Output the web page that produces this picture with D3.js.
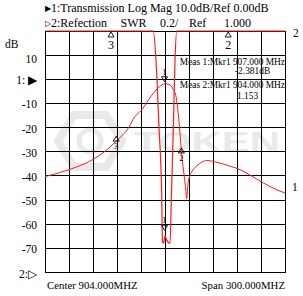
<!DOCTYPE html>
<html>
<head>
<meta charset="utf-8">
<script src="https://cdn.jsdelivr.net/npm/d3@7"></script>
<style>
  body { margin: 0; background: #fff; }
  svg { display: block; }
  text { font-family: "Liberation Serif", "Times New Roman", serif; fill: #000; }
</style>
</head>
<body>
<div id="chart"></div>
<script>
// frequency axis (MHz)
const freqStart = 754, freqStop = 1054, freqStep = 30;

// trace 1: transmission, log mag (dB)
const transFreq = [754, 769, 784, 799, 814, 829, 844, 859, 866, 874, 879, 884, 889, 894, 899, 904, 909, 914, 918, 920.5, 923, 925, 928, 930, 931, 933, 935, 939, 944, 950, 956, 969, 984, 999, 1014, 1029, 1044, 1054];
const transDb   = [-40.3, -39, -37.4, -35.6, -33.2, -29.8, -25.3, -19.8, -15.6, -13, -10.8, -8.2, -6, -4, -2.6, -1.8, -2.1, -4, -7.5, -14, -23.5, -31.5, -40, -46, -49.5, -42.5, -40, -37.5, -35.7, -34.3, -33.6, -34.4, -35.8, -37.6, -40.4, -43.3, -45.8, -47.1];

// trace 2: reflection, SWR
const swrFreq = [754, 889.4, 892.8, 896.5, 899.9, 900.8, 902, 904, 906, 908, 910.3, 912, 914.4, 916.5, 918.6, 1054];
const swrVal  = [3, 3, 2.75, 2.2, 1.64, 1.26, 1.24, 1.3, 1.27, 1.25, 1.24, 1.64, 2.2, 2.75, 3, 3];

// left scale labels
const dbTicks = [10, 0, -10, -20, -30, -40, -50, -60, -70, -80];
const dbTickLabels = ["10", "1: \u25B6", "-10", "-20", "-30", "-40", "-50", "-60", "-70", "2:\u25B7"];

// markers on traces
const trMarkers = [{ f: 903.5, v: -1.0, n: "1", dir: "down" }, { f: 843, v: -25.6, n: "3", dir: "up" }, { f: 924.5, v: -30.5, n: "2", dir: "up" }];
const swrMarkers = [{ f: 903.5, v: 1.35, n: "1" }];
const topMarkers = [{ f: 836.5, n: "3" }, { f: 983, n: "2" }];

const width = 303, height = 296;
const plotL = 45, plotR = 285, plotT = 31, plotB = 272.5;

const svg = d3.select("#chart").append("svg")
  .attr("width", width).attr("height", height);

const x = d3.scaleLinear().domain([freqStart, freqStop]).range([plotL, plotR]);
const y = d3.scaleLinear().domain([-80, 20]).range([plotB, plotT]);
const ySwr = d3.scaleLinear().domain([1, 3]).range([plotB, plotT]).clamp(true);

// watermark (logo)
const wm = svg.append("g").attr("opacity", 0.5);
const hex = d3.range(6).map(i => {
  const a = Math.PI / 3 * i;
  return [90 + 32 * Math.cos(a), 141 + 30 * Math.sin(a)];
});
wm.append("path").attr("d", d3.line()(hex) + "Z")
  .attr("fill", "none").attr("stroke", "#d4d4d4").attr("stroke-width", 8);
wm.append("circle").attr("cx", 90).attr("cy", 141).attr("r", 11)
  .attr("fill", "none").attr("stroke", "#d4d4d4").attr("stroke-width", 5);
wm.append("text").attr("x", 134).attr("y", 152)
  .attr("textLength", 146).attr("lengthAdjust", "spacingAndGlyphs")
  .style("font-family", "'Liberation Sans', Arial, sans-serif")
  .style("font-weight", "bold").style("font-size", "29px")
  .style("fill", "#d4d4d4").text("TOKEN");

// grid
const grid = svg.append("g").attr("stroke", "#000").attr("stroke-width", 1).attr("shape-rendering", "crispEdges");
grid.selectAll(".v").data(d3.range(freqStart, freqStop + 1, freqStep)).join("line")
  .attr("x1", d => x(d)).attr("x2", d => x(d)).attr("y1", plotT).attr("y2", plotB);
grid.selectAll(".h").data(d3.range(-80, 21, 10)).join("line")
  .attr("x1", plotL).attr("x2", plotR).attr("y1", d => y(d)).attr("y2", d => y(d));

// left labels
svg.append("g").selectAll("text").data(dbTicks).join("text")
  .attr("x", 37).attr("y", d => y(d) + (d === 10 ? 4 : 1))
  .attr("text-anchor", "end").attr("dominant-baseline", "central")
  .style("font-size", "11.5px")
  .text((d, i) => dbTickLabels[i]);
svg.append("text").attr("x", 5).attr("y", 44).attr("dominant-baseline", "central")
  .style("font-size", "11.5px").text("dB");

// traces
const line1 = d3.line().x((d, i) => x(transFreq[i])).y(d => y(d)).curve(d3.curveMonotoneX);
svg.append("path").attr("d", line1(transDb))
  .attr("fill", "none").attr("stroke", "#ff1a1a").attr("stroke-width", 1);
const line2 = d3.line().x((d, i) => x(swrFreq[i])).y(d => ySwr(d)).curve(d3.curveMonotoneX);
svg.append("path").attr("d", line2(swrVal))
  .attr("fill", "none").attr("stroke", "#ff1a1a").attr("stroke-width", 1.2);

// trace end labels
svg.append("text").attr("x", 292).attr("y", y(-44.5)).attr("dominant-baseline", "central")
  .style("font-size", "11.5px").text("1");
svg.append("text").attr("x", 293).attr("y", 33).attr("dominant-baseline", "central")
  .style("font-size", "11.5px").text("2");

// marker symbols
function tri(g, cx, cy, dir) {
  const h = 5, w = 3;
  const pts = dir === "down"
    ? [[cx - w, cy - h], [cx + w, cy - h], [cx, cy]]
    : [[cx - w, cy + h], [cx + w, cy + h], [cx, cy]];
  g.append("path").attr("d", d3.line()(pts) + "Z")
    .attr("fill", "none").attr("stroke", "#000").attr("stroke-width", 0.9);
}
const mk = svg.append("g");
trMarkers.forEach(m => {
  const cx = x(m.f), cy = y(m.v);
  if (m.dir === "down") {
    tri(mk, cx, cy, "down");
    mk.append("text").attr("x", cx).attr("y", cy - 7).attr("text-anchor", "middle")
      .style("font-size", "9px").text(m.n);
  } else {
    tri(mk, cx, cy - 5, "up");
    mk.append("text").attr("x", cx).attr("y", cy + 8).attr("text-anchor", "middle")
      .style("font-size", "8.5px").text(m.n);
  }
});
swrMarkers.forEach(m => {
  const cx = x(m.f), cy = ySwr(m.v);
  tri(mk, cx, cy, "down");
  mk.append("text").attr("x", cx).attr("y", cy - 7).attr("text-anchor", "middle")
    .style("font-size", "9px").text(m.n);
});
topMarkers.forEach(m => {
  const cx = x(m.f);
  tri(mk, cx, 32, "up");
  mk.append("text").attr("x", cx).attr("y", 49).attr("text-anchor", "middle")
    .style("font-size", "12px").text(m.n);
});

// header
const h1 = svg.append("text").attr("x", 45).attr("y", 12).style("font-size", "12px");
h1.append("tspan").style("font-size", "8px").attr("dy", -1).text("\u25B6");
h1.append("tspan").attr("dy", 1).text("1:Transmission Log Mag 10.0dB/Ref 0.00dB");
const h2 = svg.append("g").style("font-size", "12px");
const h2a = h2.append("text").attr("x", 45).attr("y", 27);
h2a.append("tspan").style("font-size", "8px").attr("dy", -1).text("\u25B7");
h2a.append("tspan").attr("dy", 1).text("2:Refection");
h2.append("text").attr("x", 120.5).attr("y", 27).text("SWR");
h2.append("text").attr("x", 160).attr("y", 27).text("0.2/");
h2.append("text").attr("x", 189).attr("y", 27).text("Ref");
h2.append("text").attr("x", 224).attr("y", 27).text("1.000");

// measurement readout
const meas = svg.append("g").style("font-size", "9.4px");
meas.append("text").attr("x", 285).attr("y", 65).attr("text-anchor", "end").text("Meas 1:Mkr1 907.000 MHz");
meas.append("text").attr("x", 235).attr("y", 74).text("-2.381dB");
meas.append("text").attr("x", 285).attr("y", 87.5).attr("text-anchor", "end").text("Meas 2:Mkr1 904.000 MHz");
meas.append("text").attr("x", 237).attr("y", 99).text("1.153");

// footer
svg.append("text").attr("x", 47).attr("y", 289).style("font-size", "10.8px").text("Center 904.000MHZ");
svg.append("text").attr("x", 285).attr("y", 289).attr("text-anchor", "end").style("font-size", "10.8px").text("Span 300.000MHZ");
</script>
</body>
</html>
